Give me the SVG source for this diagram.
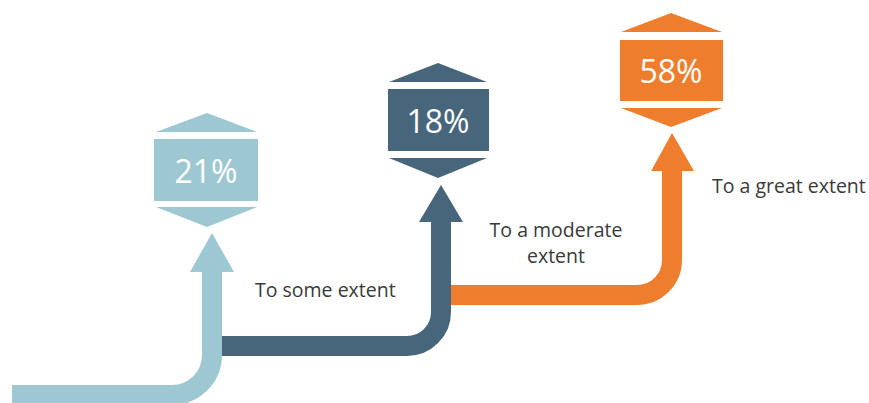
<svg xmlns="http://www.w3.org/2000/svg" width="869" height="403" viewBox="0 0 869 403">
<style>
.lb{fill:#9DC8D2}
.db{fill:#47657B}
.or{fill:#EE7E2D}
.shaft{fill:none;stroke-width:20;stroke-linecap:butt}
.pct{font-family:"Open Sans","Noto Sans",sans-serif;font-size:32px;fill:#ffffff;text-anchor:middle}
.lbl{font-family:"Open Sans","Noto Sans",sans-serif;font-size:19.5px;fill:#3a3a3a}
</style>
<rect width="869" height="403" fill="#ffffff"/>
<g id="connectors">
  <path class="shaft" stroke="#9DC8D2" d="M12 395 H172 A40 40 0 0 0 212 355 V271"/>
  <polygon class="lb" points="190,272 212,233 234,272"/>
  <path class="shaft" stroke="#47657B" d="M222 346 H407 A34 34 0 0 0 441 312 V221"/>
  <polygon class="db" points="419,222 441,185 463,222"/>
  <path class="shaft" stroke="#EE7E2D" d="M451 295 H637 A35 35 0 0 0 672 260 V170"/>
  <polygon class="or" points="651,171 672,133 694,171"/>
</g>
<g id="node-21">
  <polygon class="lb" points="156,132 207,113 257,132"/>
  <rect class="lb" x="154" y="139" width="104" height="62"/>
  <polygon class="lb" points="156,207 257,207 207,227"/>
  <text class="pct" x="206" y="183">21%</text>
</g>
<g id="node-18">
  <polygon class="db" points="389,82 438,63 487,82"/>
  <rect class="db" x="388" y="89" width="101" height="62"/>
  <polygon class="db" points="389,158 487,158 438,178"/>
  <text class="pct" x="438" y="133">18%</text>
</g>
<g id="node-58">
  <polygon class="or" points="621,32 671,13 722,32"/>
  <rect class="or" x="620" y="40" width="103" height="61"/>
  <polygon class="or" points="621,108 722,108 671,127"/>
  <text class="pct" x="671" y="83">58%</text>
</g>
<g id="labels">
  <text class="lbl" x="255" y="297">To some extent</text>
  <text class="lbl" x="556" y="237" text-anchor="middle">To a moderate</text>
  <text class="lbl" x="556" y="263" text-anchor="middle">extent</text>
  <text class="lbl" x="712" y="193">To a great extent</text>
</g>
</svg>
